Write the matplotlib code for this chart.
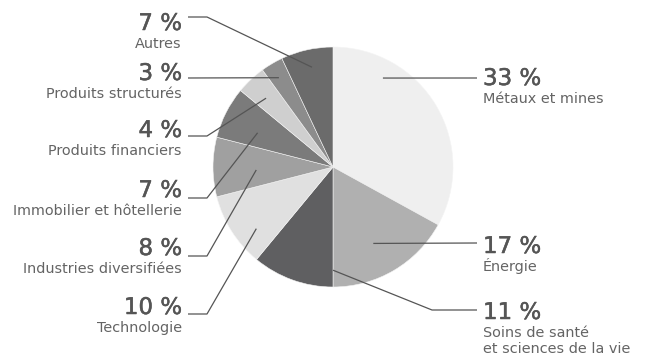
import matplotlib
matplotlib.use("Agg")
import matplotlib.pyplot as plt
import matplotlib.patheffects as pe
import numpy as np

W, H = 647, 360

# data
sectors = ["Métaux et mines", "Énergie", "Soins de santé\net sciences de la vie",
           "Technologie", "Industries diversifiées", "Immobilier et hôtellerie",
           "Produits financiers", "Produits structurés", "Autres"]
shares = [33, 17, 11, 10, 8, 7, 4, 3, 7]
colors = ["#efefef", "#b0b0b0", "#5f5f61", "#e0e0e0", "#a0a0a0",
          "#7b7b7b", "#cfcfcf", "#8c8c8c", "#6b6b6b"]

# layout (pixels, y measured from top)
cx, cy, R = 333, 167, 120
side = ["r", "r", "r", "l", "l", "l", "l", "l", "l"]
pct_base = [85, 253, 319, 314, 255, 197, 137, 80, 30]
line_y = [78, 243, 310, 314, 256, 198, 136, 78, 17]
anchor_ang = [60.7, 297.8, 270, 218.8, 182.2, 155.6, 134.2, 121.2, 101.9]
anchor_r = [0.85, 0.72, 0.86, 0.82, 0.64, 0.69, 0.80, 0.87, 0.85]
elbow_x = [None, None, 432, 207, 207, 207, 207, None, 207]

fig = plt.figure(figsize=(W / 100, H / 100), dpi=100)
ax = fig.add_axes([0, 0, 1, 1])

ax.pie(shares, colors=colors, startangle=90, counterclock=False,
       radius=R, center=(cx, H - cy),
       wedgeprops=dict(linewidth=0.4, edgecolor="#f4f4f4"))
ax.set_xlim(0, W)
ax.set_ylim(0, H)
ax.set_aspect("equal")
ax.axis("off")

lc = "#555555"
thick = [pe.withStroke(linewidth=0.35, foreground="#555555")]
for i, name in enumerate(sectors):
    a = np.deg2rad(anchor_ang[i])
    px = cx + anchor_r[i] * R * np.cos(a)
    py = (H - cy) + anchor_r[i] * R * np.sin(a)
    ly = H - line_y[i]
    if side[i] == "r":
        xs, tx, ha = 477, 483, "left"
    else:
        xs, tx, ha = 188, 182, "right"
    if elbow_x[i] is None:
        ax.plot([px, xs], [py, ly], color=lc, lw=0.9, solid_capstyle="butt")
    else:
        ax.plot([px, elbow_x[i], xs], [py, ly, ly], color=lc, lw=0.9,
                solid_capstyle="butt")
    ax.text(tx, H - pct_base[i], f"{shares[i]} %", ha=ha, va="baseline",
            fontsize=16.5, fontfamily="DejaVu Sans", color="#555555",
            path_effects=thick)
    for j, line in enumerate(name.split("\n")):
        ax.text(tx, H - (pct_base[i] + 18 + 16 * j), line, ha=ha,
                va="baseline", fontsize=10.4, fontfamily="DejaVu Sans",
                color="#646464")

fig.savefig("out.png", dpi=100, facecolor="white")
